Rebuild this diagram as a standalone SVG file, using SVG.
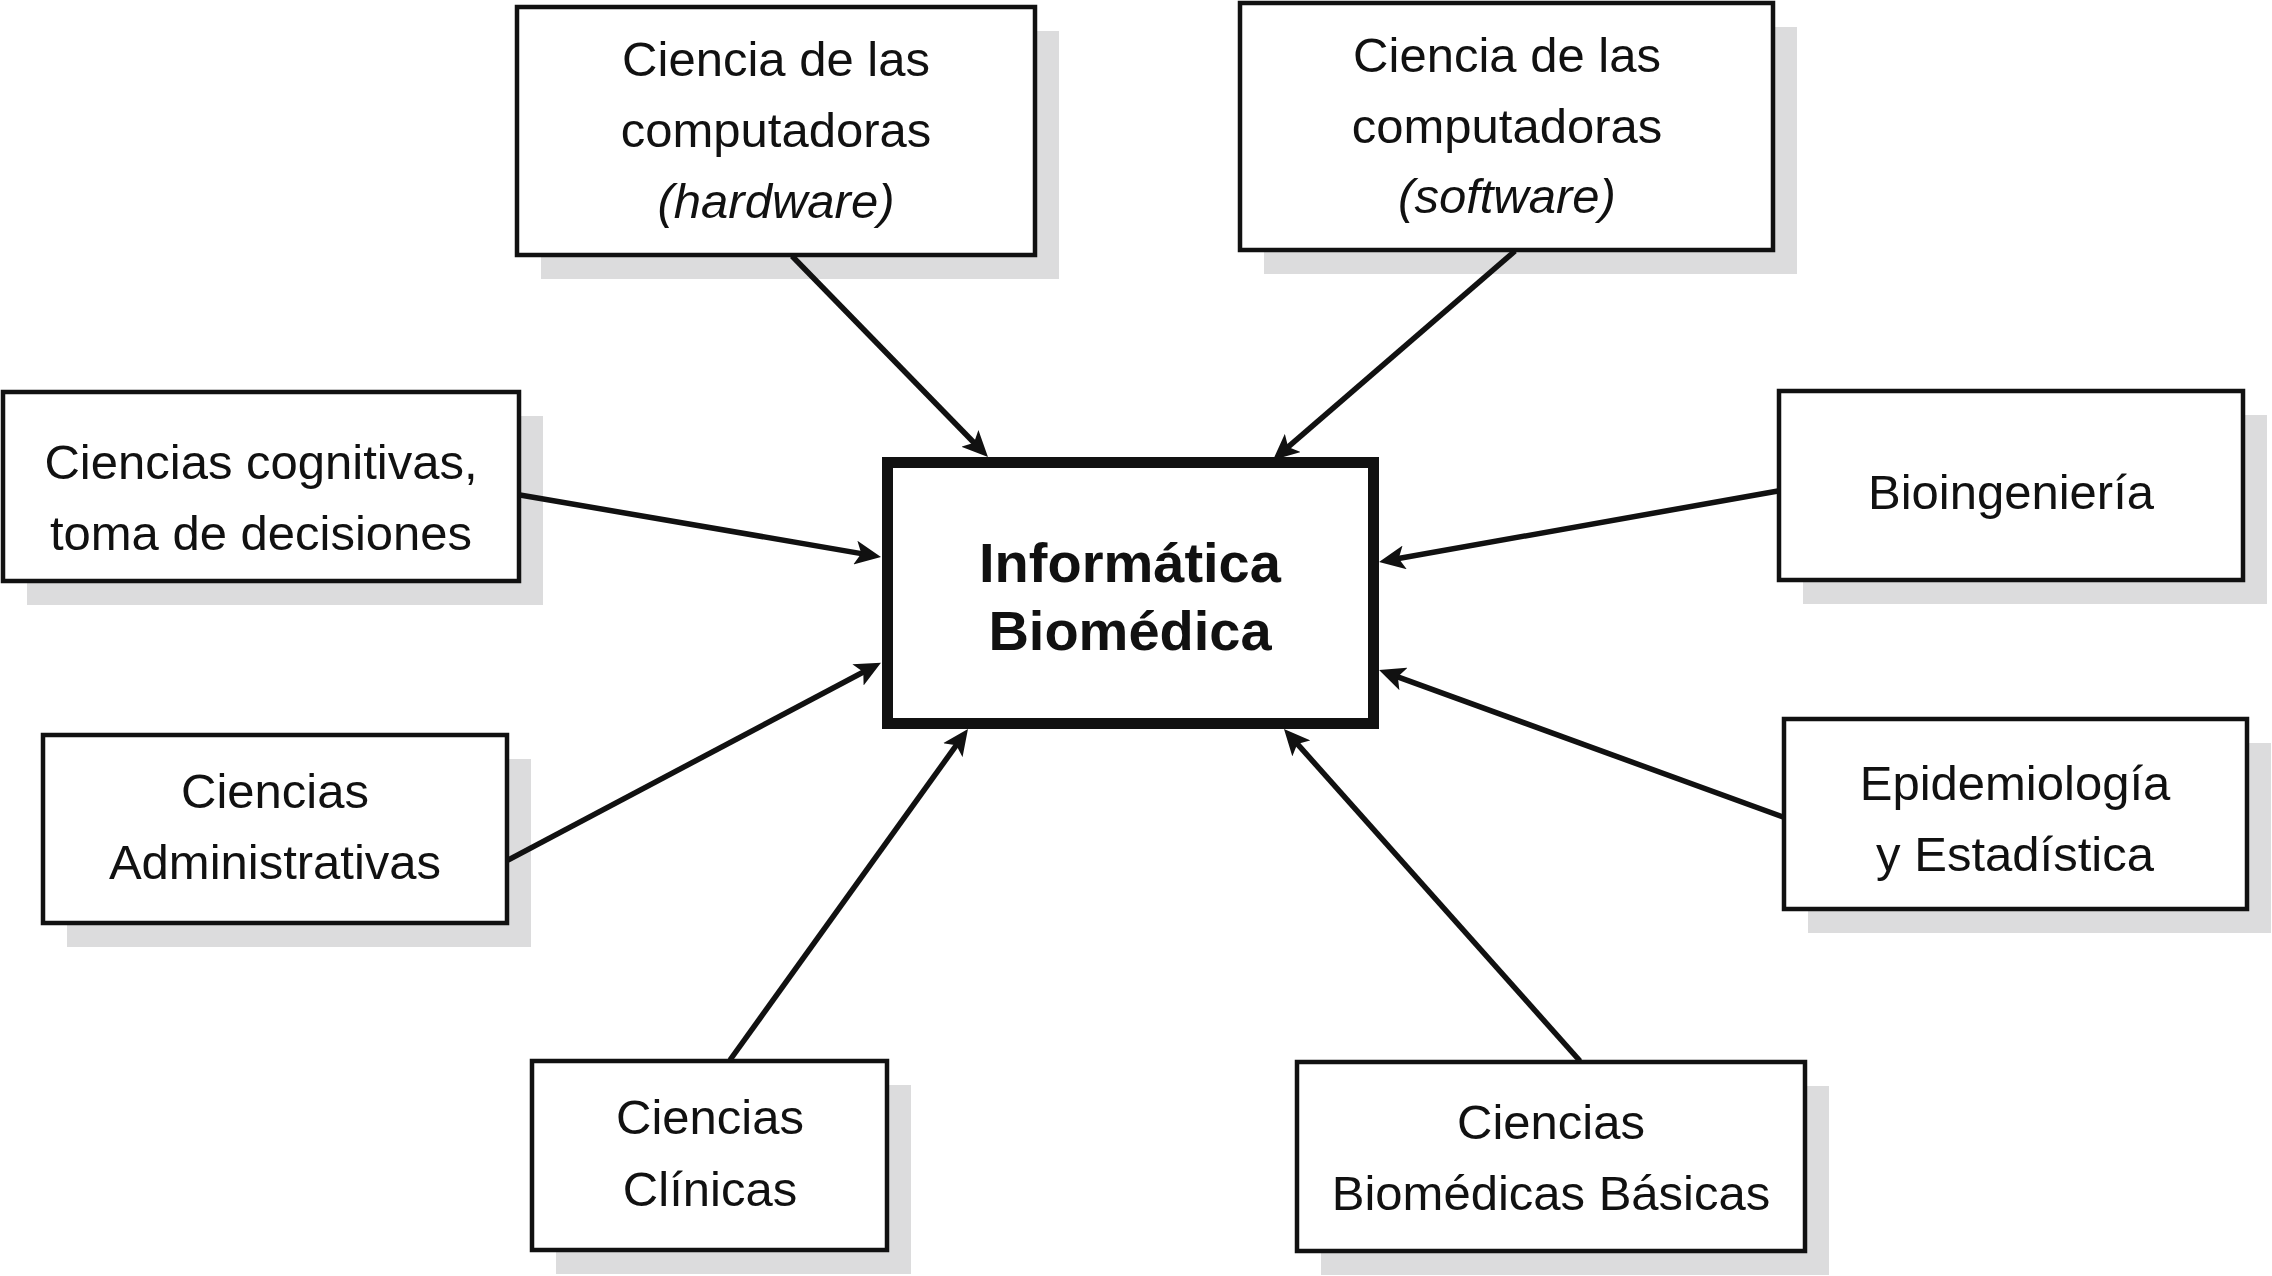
<svg xmlns="http://www.w3.org/2000/svg" width="2272" height="1276" viewBox="0 0 2272 1276">
<defs>
<style>
.bg{fill:#ffffff}
.sh{fill:#dcdcdd;stroke:none}
.box{fill:#ffffff;stroke:#111111;stroke-width:4.5}
.main{fill:#ffffff;stroke:#111111;stroke-width:11}
.t{font-family:"Liberation Sans",Arial,Helvetica,sans-serif;font-size:49px;fill:#111111;text-anchor:middle}
.it{font-style:italic}
.tb{font-family:"Liberation Sans",Arial,Helvetica,sans-serif;font-size:56px;font-weight:bold;fill:#111111;text-anchor:middle}
.ln{stroke:#111111;stroke-width:5.5;fill:none;marker-end:url(#ah)}
</style>
<marker id="ah" markerUnits="userSpaceOnUse" viewBox="0 0 26 24" markerWidth="26" markerHeight="24" refX="12" refY="12" orient="auto">
<path d="M0,0 L26,12 L0,24 L6,12 Z" fill="#111111"/>
</marker>
</defs>
<rect class="bg" x="0" y="0" width="2272" height="1276"/>

<g id="node-central">
<rect class="main" x="887.5" y="462.5" width="486" height="261"/>
<text class="tb" x="1130" y="582">Informática</text>
<text class="tb" x="1130" y="650">Biomédica</text>
</g>

<g id="node-hardware">
<rect class="sh" x="541" y="31" width="518" height="248"/>
<rect class="box" x="517" y="7" width="518" height="248"/>
<text class="t" x="776" y="76">Ciencia de las</text>
<text class="t" x="776" y="147">computadoras</text>
<text class="t it" x="776" y="218">(hardware)</text>
</g>

<g id="node-software">
<rect class="sh" x="1264" y="27" width="533" height="247"/>
<rect class="box" x="1240" y="3" width="533" height="247"/>
<text class="t" x="1507" y="72">Ciencia de las</text>
<text class="t" x="1507" y="143">computadoras</text>
<text class="t it" x="1507" y="213">(software)</text>
</g>

<g id="node-cognitivas">
<rect class="sh" x="27" y="416" width="516" height="189"/>
<rect class="box" x="3" y="392" width="516" height="189"/>
<text class="t" x="261" y="479">Ciencias cognitivas,</text>
<text class="t" x="261" y="550">toma de decisiones</text>
</g>

<g id="node-administrativas">
<rect class="sh" x="67" y="759" width="464" height="188"/>
<rect class="box" x="43" y="735" width="464" height="188"/>
<text class="t" x="275" y="808">Ciencias</text>
<text class="t" x="275" y="879">Administrativas</text>
</g>

<g id="node-clinicas">
<rect class="sh" x="556" y="1085" width="355" height="189"/>
<rect class="box" x="532" y="1061" width="355" height="189"/>
<text class="t" x="710" y="1134">Ciencias</text>
<text class="t" x="710" y="1206">Clínicas</text>
</g>

<g id="node-biomedicas">
<rect class="sh" x="1321" y="1086" width="508" height="189"/>
<rect class="box" x="1297" y="1062" width="508" height="189"/>
<text class="t" x="1551" y="1139">Ciencias</text>
<text class="t" x="1551" y="1210">Biomédicas Básicas</text>
</g>

<g id="node-bioingenieria">
<rect class="sh" x="1803" y="415" width="464" height="189"/>
<rect class="box" x="1779" y="391" width="464" height="189"/>
<text class="t" x="2011" y="509">Bioingeniería</text>
</g>

<g id="node-epidemiologia">
<rect class="sh" x="1808" y="743" width="463" height="190"/>
<rect class="box" x="1784" y="719" width="463" height="190"/>
<text class="t" x="2015" y="800">Epidemiología</text>
<text class="t" x="2015" y="871">y Estadística</text>
</g>

<g id="connectors">
<line class="ln" x1="792" y1="256" x2="978.2" y2="447.0"/>
<line class="ln" x1="1515" y1="251" x2="1283.6" y2="450.8"/>
<line class="ln" x1="520" y1="495" x2="867.2" y2="554.6"/>
<line class="ln" x1="508" y1="860" x2="868.6" y2="669.3"/>
<line class="ln" x1="730" y1="1060" x2="959.8" y2="740.4"/>
<line class="ln" x1="1580" y1="1061" x2="1293.3" y2="739.4"/>
<line class="ln" x1="1778" y1="491" x2="1392.8" y2="559.5"/>
<line class="ln" x1="1783" y1="817" x2="1392.2" y2="674.8"/>
</g>
</svg>
